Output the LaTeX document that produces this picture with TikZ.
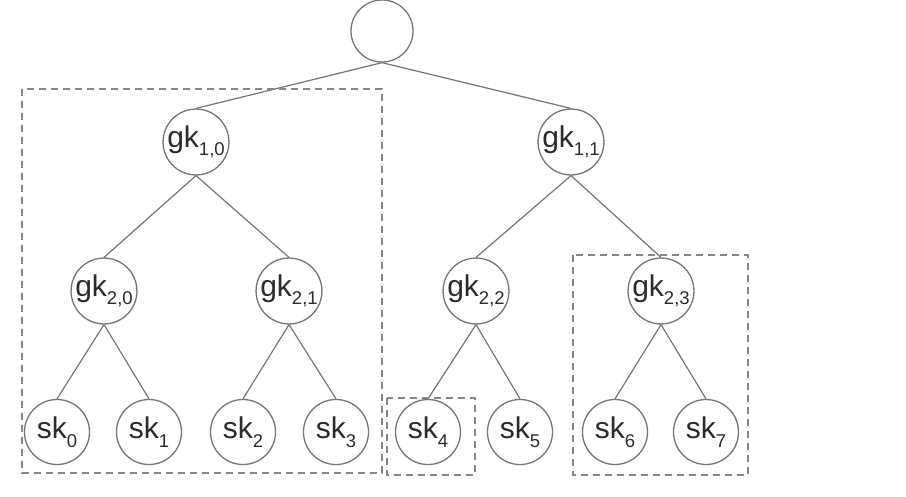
\documentclass[tikz,border=0pt]{standalone}
\usepackage{fontspec}
\setmainfont{Liberation Sans}
\definecolor{linegray}{HTML}{757575}
\definecolor{boxgray}{HTML}{858585}
\definecolor{textgray}{HTML}{2B2B2B}
\newcommand\sbx[1]{\raisebox{-8.5pt}{\fontsize{18.5}{20}\selectfont #1}}
\begin{document}
\begin{tikzpicture}[x=1pt,y=-1pt,
  keynode/.style={circle,draw=linegray,line width=1.3pt,minimum size=65pt,inner sep=0pt,
    text=textgray,font=\fontsize{30}{32}\selectfont},
  edge/.style={draw=linegray,line width=1.2pt},
  groupbox/.style={draw=boxgray,line width=1.3pt,dash pattern=on 7pt off 5pt}]
\useasboundingbox (0,0) rectangle (906,496);
\fill[white] (0,0) rectangle (906,496);
\node[keynode,minimum size=62pt] (r) at (382,31) {};
\node[keynode] (g10) at (196,142) {gk\sbx{1,0}};
\node[keynode] (g11) at (571,142) {gk\sbx{1,1}};
\node[keynode] (g20) at (104,291) {gk\sbx{2,0}};
\node[keynode] (g21) at (289,291) {gk\sbx{2,1}};
\node[keynode] (g22) at (476,291) {gk\sbx{2,2}};
\node[keynode] (g23) at (661,291) {gk\sbx{2,3}};
\node[keynode] (s0) at (57,432) {sk\sbx{0}};
\node[keynode] (s1) at (149,432) {sk\sbx{1}};
\node[keynode] (s2) at (243,432) {sk\sbx{2}};
\node[keynode] (s3) at (336,432) {sk\sbx{3}};
\node[keynode] (s4) at (428,432) {sk\sbx{4}};
\node[keynode] (s5) at (520,432) {sk\sbx{5}};
\node[keynode] (s6) at (615,432) {sk\sbx{6}};
\node[keynode] (s7) at (706,432) {sk\sbx{7}};
\foreach \p/\c in {r/g10,r/g11,g10/g20,g10/g21,g11/g22,g11/g23,
  g20/s0,g20/s1,g21/s2,g21/s3,g22/s4,g22/s5,g23/s6,g23/s7}
  \draw[edge] (\p.south) -- (\c.north);
\coordinate (b1a) at (22,89);
\coordinate (b1b) at (382,473);
\coordinate (b2a) at (387,398);
\coordinate (b2b) at (475,475);
\coordinate (b3a) at (573,255);
\coordinate (b3b) at (748,475);
\draw[groupbox] (b1a) rectangle (b1b);
\draw[groupbox] (b2a) rectangle (b2b);
\draw[groupbox] (b3a) rectangle (b3b);
\end{tikzpicture}
\end{document}
